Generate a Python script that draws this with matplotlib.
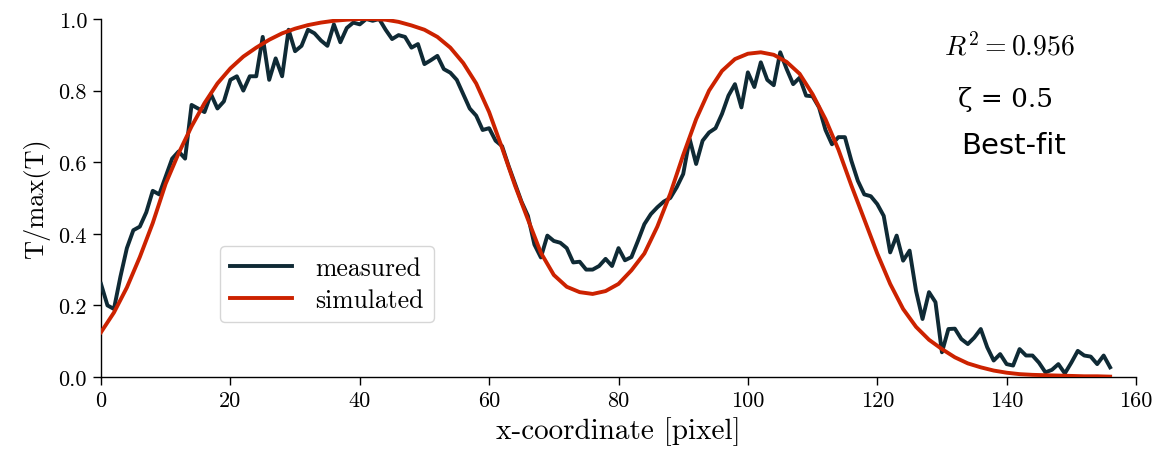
import matplotlib
matplotlib.use("Agg")
import matplotlib.pyplot as plt

# ---- data ----
x_measured = list(range(0, 157))
y_measured = [
    0.26, 0.20, 0.19, 0.28, 0.36, 0.41, 0.42, 0.46, 0.52, 0.51,
    0.56, 0.61, 0.63, 0.61, 0.76, 0.75, 0.74, 0.79, 0.75, 0.77,
    0.83, 0.84, 0.80, 0.84, 0.84, 0.95, 0.83, 0.89, 0.84, 0.97,
    0.91, 0.925, 0.97, 0.96, 0.94, 0.925, 0.985, 0.935, 0.975, 0.99,
    0.985, 1.0, 0.995, 1.0, 0.97, 0.944, 0.955, 0.95, 0.92, 0.93,
    0.874, 0.885, 0.897, 0.86, 0.85, 0.83, 0.79, 0.75, 0.73, 0.69,
    0.695, 0.66, 0.645, 0.59, 0.54, 0.49, 0.45, 0.37, 0.334, 0.395,
    0.38, 0.375, 0.36, 0.32, 0.322, 0.30, 0.30, 0.31, 0.33, 0.31,
    0.36, 0.326, 0.335, 0.38, 0.427, 0.455, 0.474, 0.49, 0.50, 0.53,
    0.567, 0.665, 0.595, 0.66, 0.683, 0.695, 0.735, 0.786, 0.818, 0.753,
    0.851, 0.81, 0.879, 0.83, 0.815, 0.907, 0.86, 0.818, 0.836, 0.786,
    0.784, 0.753, 0.69, 0.65, 0.67, 0.67, 0.604, 0.548, 0.51, 0.505,
    0.483, 0.45, 0.348, 0.395, 0.325, 0.353, 0.24, 0.162, 0.237, 0.209,
    0.069, 0.134, 0.135, 0.106, 0.092, 0.11, 0.134, 0.083, 0.046, 0.064,
    0.036, 0.032, 0.078, 0.06, 0.06, 0.04, 0.013, 0.02, 0.036, 0.01,
    0.04, 0.073, 0.06, 0.057, 0.036, 0.06, 0.027,
]

x_simulated = list(range(0, 157, 2))
y_simulated = [
    0.125, 0.18, 0.25, 0.335, 0.43, 0.54, 0.625, 0.70, 0.765, 0.82,
    0.862, 0.895, 0.92, 0.942, 0.96, 0.973, 0.983, 0.99, 0.995, 0.998,
    1.0, 1.0, 0.998, 0.992, 0.982, 0.97, 0.95, 0.92, 0.877, 0.82,
    0.74, 0.64, 0.535, 0.44, 0.347, 0.285, 0.252, 0.237, 0.232, 0.24,
    0.26, 0.298, 0.345, 0.42, 0.512, 0.62, 0.72, 0.80, 0.855, 0.888,
    0.903, 0.907, 0.90, 0.88, 0.847, 0.79, 0.72, 0.635, 0.535, 0.44,
    0.345, 0.26, 0.19, 0.14, 0.104, 0.078, 0.055, 0.038, 0.027, 0.018,
    0.012, 0.008, 0.006, 0.005, 0.004, 0.003, 0.002, 0.002, 0.001,
]

x_ticks = [0, 20, 40, 60, 80, 100, 120, 140, 160]
y_ticks = [0.0, 0.2, 0.4, 0.6, 0.8, 1.0]

plt.rcParams['font.family'] = 'serif'
plt.rcParams['font.serif'] = ['cmr10', 'DejaVu Serif']
plt.rcParams['mathtext.fontset'] = 'cm'
plt.rcParams['axes.formatter.use_mathtext'] = True
plt.rcParams['axes.unicode_minus'] = False

W, H = 1159, 460
fig = plt.figure(figsize=(W / 100, H / 100), dpi=100)
ax = fig.add_axes([101 / W, 1 - 378 / H, (1136 - 101) / W, (378 - 20) / H])

ax.plot(x_measured, y_measured, color='#0f2a35', lw=2.8, label='measured', zorder=3)
ax.plot(x_simulated, y_simulated, color='#cc2200', lw=2.8, label='simulated', zorder=4)

ax.set_xlim(0, 160)
ax.set_ylim(0, 1.0)
ax.set_xticks(x_ticks)
ax.set_yticks(y_ticks)
ax.set_xticklabels([str(t) for t in x_ticks])
ax.set_yticklabels([f"{t:.1f}" for t in y_ticks])
ax.tick_params(labelsize=16, length=6, width=1.0, direction='out', pad=4)
for s in ['top', 'right']:
    ax.spines[s].set_visible(False)
for s in ['left', 'bottom']:
    ax.spines[s].set_linewidth(1.0)

ax.set_xlabel('x-coordinate [pixel]', fontsize=21, labelpad=4)
ax.set_ylabel('T/max(T)', fontsize=19, labelpad=6)

leg = ax.legend(loc='lower left', bbox_to_anchor=(0.115, 0.154), borderaxespad=0,
                fontsize=18.5, frameon=True, handlelength=2.4, handletextpad=0.9,
                borderpad=0.4, labelspacing=0.3)
leg.get_frame().set_edgecolor('#cccccc')
leg.get_frame().set_linewidth(1.0)

fig.text(1010 / W, 1 - 47 / H, r'$R^2 = 0.956$', fontsize=20, ha='center', va='center')
fig.text(1006 / W, 1 - 100 / H, 'ζ = 0.5', fontsize=19, ha='center', va='center',
         family=['DejaVu Serif'])
fig.text(1014 / W, 1 - 146 / H, 'Best-fit', fontsize=21, ha='center', va='center',
         family=['DejaVu Sans'])

fig.savefig('out.png', dpi=100)
